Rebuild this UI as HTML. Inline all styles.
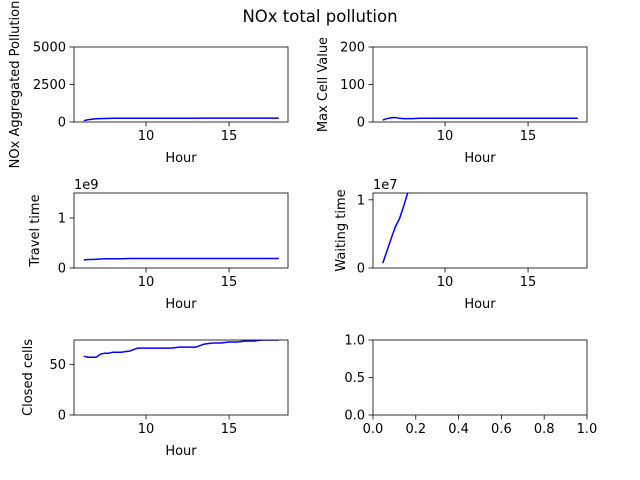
<!DOCTYPE html>
<html><head><meta charset="utf-8"><style>
body{margin:0;background:#fff}
svg{display:block;font-family:"DejaVu Sans","Liberation Sans",sans-serif}
</style></head><body>
<svg id="fig" width="640" height="480" viewBox="0 0 640 480">
<text x="320" y="22" text-anchor="middle" font-size="16.5">NOx total pollution</text>
</svg>
<script>
const hours = [6.25,6.5,6.75,7,7.25,7.5,7.75,8,8.5,9,9.5,10,10.5,11,11.5,12,12.5,13,13.5,14,14.5,15,15.5,16,16.5,17,17.5,18];
const noxAgg = [90,150,190,210,225,235,240,245,248,250,252,253,254,255,255,256,256,256,257,257,257,257,258,258,258,258,258,258];
const maxCell = [5,9,11,12,10,9,9,9,10,10,10,10,10,10,10,10,10,10,10,10,10,10,10,10,10,10,10,10];
const travel = [0.16,0.17,0.17,0.175,0.18,0.185,0.185,0.185,0.185,0.19,0.19,0.19,0.19,0.19,0.19,0.19,0.19,0.19,0.19,0.19,0.19,0.19,0.19,0.19,0.19,0.19,0.19,0.19];
const waitHours = [6.25,6.5,6.75,7,7.25,7.5,7.75,8,8.5];
const waiting = [0.07,0.25,0.43,0.6,0.72,0.9,1.1,1.3,1.6];
const closed = [58,57,57,57,60,61,61,62,62,63,66,66,66,66,66,67,67,67,70,71,71,72,72,73,73,74,74,74];
const xTicks = [10,15];
const emptyXTicks = [0,0.2,0.4,0.6,0.8,1];
const emptyYTicks = [0,0.5,1];

const NS="http://www.w3.org/2000/svg";
const svg=document.getElementById('fig');
function mk(t,a,p){const e=document.createElementNS(NS,t);for(const k in a)e.setAttribute(k,a[k]);(p||svg).appendChild(e);return e;}

function panel(name,box,xlim,ylim,yTicks,yFmt,xt,xFmt,ylabel,xs,ys,offset,xlabel){
  const [L,T,R,B]=box;
  const g=mk('g',{});
  
  
  const sx=v=>L+(v-xlim[0])/(xlim[1]-xlim[0])*(R-L);
  const sy=v=>B-(v-ylim[0])/(ylim[1]-ylim[0])*(B-T);
  const cid='c'+name;
  const cp=mk('clipPath',{id:cid},g);mk('rect',{x:L,y:T,width:R-L,height:B-T},cp);
  if(xs){
    const d=xs.map((x,i)=>(i?'L':'M')+sx(x).toFixed(1)+','+sy(ys[i]).toFixed(1)).join('');
    const p=mk('path',{d:d,fill:'none',stroke:'#0000ff','stroke-width':1.5,'clip-path':'url(#'+cid+')'},g);
    
    
  }
  const fr=mk('rect',{x:L,y:T,width:R-L,height:B-T,fill:'none',stroke:'#000','stroke-width':0.8},g);
  
  
  xt.forEach(v=>{const x=sx(v);mk('line',{x1:x,x2:x,y1:B,y2:B+4.5,stroke:'#000','stroke-width':0.8},g);
    const t=mk('text',{x:x,y:B+18,'text-anchor':'middle','font-size':13},g);t.textContent=xFmt(v);
    
    });
  yTicks.forEach(v=>{const y=sy(v);mk('line',{x1:L-4.5,x2:L,y1:y,y2:y,stroke:'#000','stroke-width':0.8},g);
    const t=mk('text',{x:L-8,y:y+4.5,'text-anchor':'end','font-size':13},g);t.textContent=yFmt(v);
    
    });
  if(offset){const t=mk('text',{x:L,y:T-4,'font-size':13},g);t.textContent=offset;
    
    }
  if(xlabel){const t=mk('text',{x:(L+R)/2,y:B+40,'text-anchor':'middle','font-size':13},g);t.textContent=xlabel;
    
    }
  const lx=L-ylabelOff[name];const ly=(T+B)/2;
  const yl=mk('text',{x:lx,y:ly,'text-anchor':'middle','font-size':13,transform:'rotate(-90 '+lx+' '+ly+')'},g);
  yl.textContent=ylabel;
  
  
}
const ylabelOff={'nox-aggregated-panel':55,'max-cell-panel':46,'travel-time-panel':35,'waiting-time-panel':28,'closed-cells-panel':42,'empty-panel':0};
const XL=[5.66,18.55];
const i=v=>String(v);
panel('nox-aggregated-panel',[74,47,288,122],XL,[0,5000],[0,2500,5000],i,xTicks,i,'NOx Aggregated Pollution',hours,noxAgg,null,'Hour');
panel('max-cell-panel',[373,47,587,122],XL,[0,200],[0,100,200],i,xTicks,i,'Max Cell Value',hours,maxCell,null,'Hour');
panel('travel-time-panel',[74,193,288,268],XL,[0,1.5],[0,1],i,xTicks,i,'Travel time',hours,travel,'1e9','Hour');
panel('waiting-time-panel',[373,193,587,268],XL,[0,1.1],[0,1],i,xTicks,i,'Waiting time',waitHours,waiting,'1e7','Hour');
panel('closed-cells-panel',[74,340,288,415],XL,[0,74],[0,50],i,xTicks,i,'Closed cells',hours,closed,null,'Hour');
panel('empty-panel',[373,340,587,415],[0,1],[0,1],emptyYTicks,v=>v.toFixed(1),emptyXTicks,v=>v.toFixed(1),'',null,null,null,null);
</script>
</body></html>
